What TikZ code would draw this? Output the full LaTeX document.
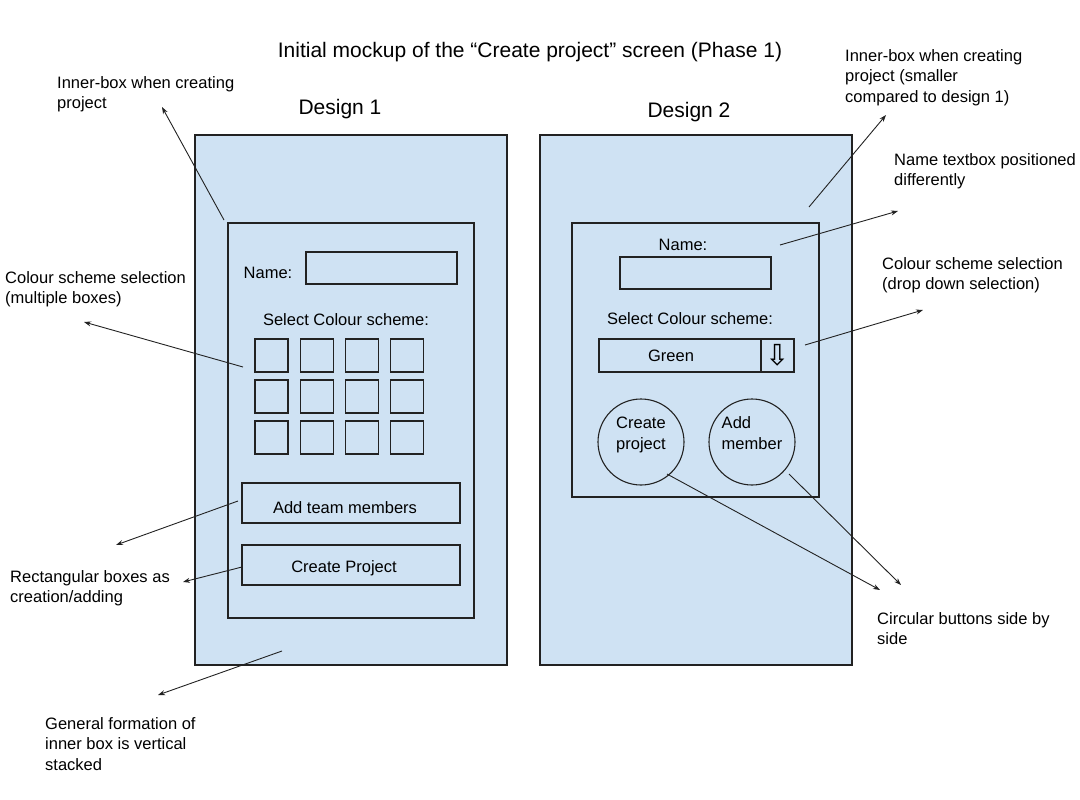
\documentclass[tikz,border=0pt]{standalone}
\usepackage{fontspec}
\setmainfont{Liberation Sans}
\newfontfamily\symfont{DejaVu Sans}
\usetikzlibrary{arrows.meta}
\definecolor{mockblue}{HTML}{CFE2F3}
\definecolor{linegray}{HTML}{222222}
\begin{document}
\begin{tikzpicture}[x=1pt, y=-1pt,
  panel/.style={draw=linegray, line width=1.1pt, fill=mockblue, inner sep=0},
  box/.style={draw=linegray, line width=1.1pt, inner sep=0},
  lbl/.style={inner sep=0, anchor=base, font=\fontsize{16.5}{20.5}\selectfont},
  note/.style={inner sep=0, anchor=north west, align=left, font=\fontsize{16.5}{20.5}\selectfont},
  pointer/.style={draw=linegray, line width=0.9pt, -{Stealth[length=7pt,width=5pt]}}]
\useasboundingbox (0,0) rectangle (1080,800);
% title
\node[inner sep=0, font=\fontsize{21}{25}\selectfont] (title) at (530,52) {Initial mockup of the “Create project” screen (Phase 1)};
\node[inner sep=0, font=\fontsize{21}{25}\selectfont] (designA) at (340,109) {Design 1};
\node[inner sep=0, font=\fontsize{21}{25}\selectfont] (designB) at (689,112) {Design 2};
% design 1
\node[panel, minimum width=312, minimum height=530] (outerA) at (351,400) {};
\node[box, minimum width=246, minimum height=395] (innerA) at (351,420.5) {};
\node[lbl] (nameA) at (268,278) {Name:};
\node[box, minimum width=151, minimum height=32] (nameboxA) at (381.5,268) {};
\node[lbl] (selectA) at (346,325) {Select Colour scheme:};
\foreach \r in {0,1,2}
  \foreach \c in {0,1,2,3}
    \node[box, minimum size=33] (sw\r\c) at (271.5+45.3*\c,355.5+41*\r) {};
\node[box, minimum width=218, minimum height=40] (addA) at (351,503) {};
\node[lbl] (addtextA) at (345,513) {Add team members};
\node[box, minimum width=218, minimum height=40] (createA) at (351,565) {};
\node[lbl] (createtextA) at (344,572) {Create Project};
% design 2
\node[panel, minimum width=312, minimum height=530] (outerB) at (696,400) {};
\node[box, minimum width=247, minimum height=274] (innerB) at (695.5,360) {};
\node[lbl] (nameB) at (683,250) {Name:};
\node[box, minimum width=151, minimum height=32] (nameboxB) at (695.5,273) {};
\node[lbl] (selectB) at (690,324) {Select Colour scheme:};
\node[box, minimum width=162, minimum height=33] (dropB) at (680,355.5) {};
\node[lbl] (greenB) at (671,361.5) {Green};
\node[box, minimum size=33, font=\symfont\fontsize{29}{29}\selectfont] (droparrowB) at (777.5,355.5) {⇩};
\node[box, circle, minimum size=86, align=left, text depth=18pt, font=\fontsize{16.5}{20.5}\selectfont] (createB) at (641,442) {Create\\project};
\node[box, circle, minimum size=86, align=left, text depth=18pt, font=\fontsize{16.5}{20.5}\selectfont] (addB) at (752,442) {Add\\member};
% notes
\node[note] (noteInnerA) at (57,76) {Inner-box when creating\\project};
\node[note] (noteGridA) at (5,271) {Colour scheme selection\\(multiple boxes)};
\node[note] (noteRectA) at (10,570) {Rectangular boxes as\\creation/adding};
\node[note] (noteStackA) at (45,717) {General formation of\\inner box is vertical\\stacked};
\node[note] (noteInnerB) at (845,49) {Inner-box when creating\\project (smaller\\compared to design 1)};
\node[note] (noteNameB) at (894,153) {Name textbox positioned\\differently};
\node[note] (noteDropB) at (882,257) {Colour scheme selection\\(drop down selection)};
\node[note] (noteCircB) at (877,612) {Circular buttons side by\\side};
% pointers
\coordinate (tailInnerA) at (224,220);  \coordinate (headInnerA) at (162,107);
\coordinate (tailGridA) at (243,367);   \coordinate (headGridA) at (84,322);
\coordinate (tailAddA) at (238,501);    \coordinate (headAddA) at (116,545);
\coordinate (tailCreateA) at (242,567); \coordinate (headCreateA) at (183,582);
\coordinate (tailStackA) at (282,651);  \coordinate (headStackA) at (158,695);
\coordinate (tailInnerB) at (809,207);  \coordinate (headInnerB) at (886,115);
\coordinate (tailNameB) at (780,245);   \coordinate (headNameB) at (898,211);
\coordinate (tailDropB) at (805,345);   \coordinate (headDropB) at (923,310);
\coordinate (tailCreateB) at (667,474); \coordinate (headCreateB) at (880,590);
\coordinate (tailAddB) at (789,474);    \coordinate (headAddB) at (901,585);
\draw[pointer] (tailInnerA) -- (headInnerA);
\draw[pointer] (tailGridA) -- (headGridA);
\draw[pointer] (tailAddA) -- (headAddA);
\draw[pointer] (tailCreateA) -- (headCreateA);
\draw[pointer] (tailStackA) -- (headStackA);
\draw[pointer] (tailInnerB) -- (headInnerB);
\draw[pointer] (tailNameB) -- (headNameB);
\draw[pointer] (tailDropB) -- (headDropB);
\draw[pointer] (tailCreateB) -- (headCreateB);
\draw[pointer] (tailAddB) -- (headAddB);
\end{tikzpicture}
\end{document}
